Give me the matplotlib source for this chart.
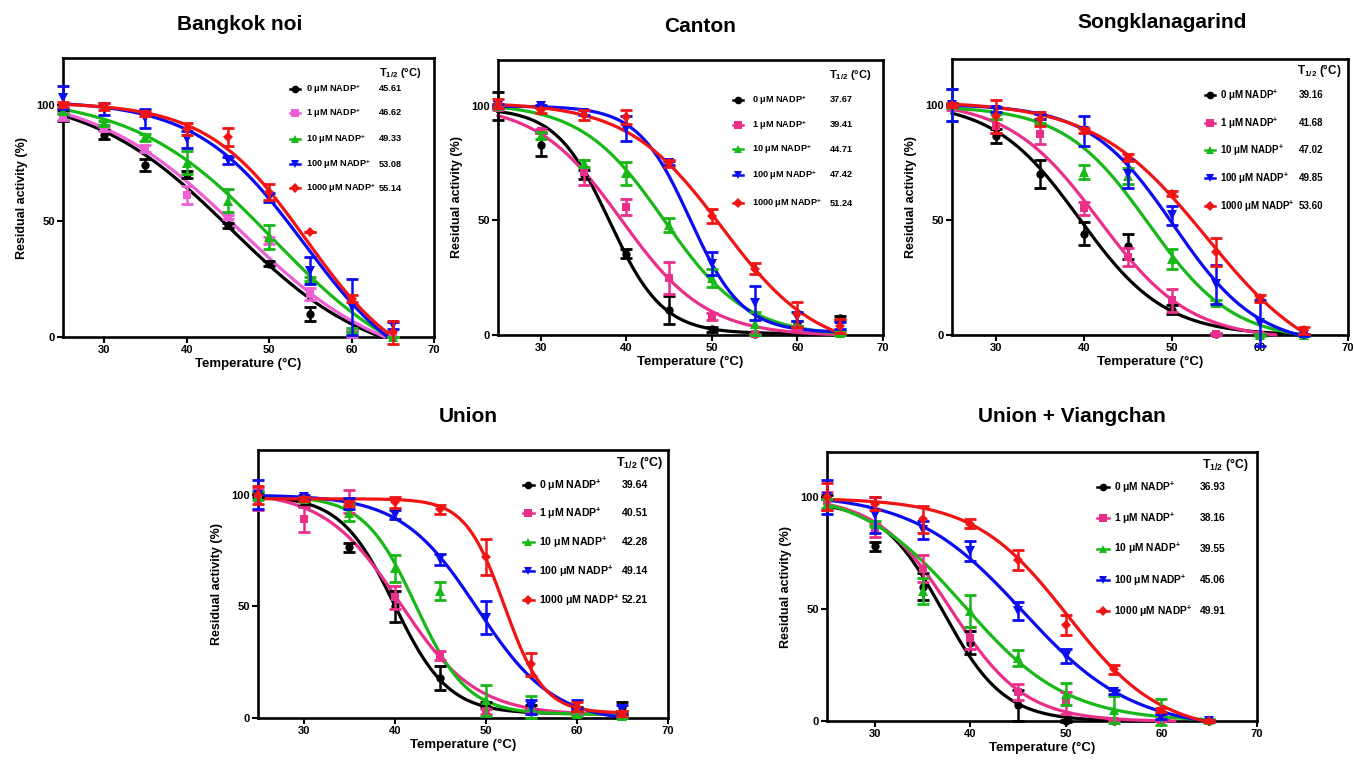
import numpy as np
import matplotlib
matplotlib.use("Agg")
import matplotlib.pyplot as plt

plt.rcParams['font.family'] = ['Liberation Sans', 'DejaVu Sans']
plt.rcParams['font.weight'] = 'bold'
plt.rcParams['mathtext.fontset'] = 'custom'
plt.rcParams['mathtext.rm'] = 'Liberation Sans:bold'
plt.rcParams['mathtext.bf'] = 'Liberation Sans:bold'
plt.rcParams['mathtext.it'] = 'Liberation Sans:bold'

# ---------------- data ----------------
TEMPS = [25, 30, 35, 40, 45, 50, 55, 60, 65]
LABELS = ["0 μM NADP$^{+}$", "1 μM NADP$^{+}$", "10 μM NADP$^{+}$",
          "100 μM NADP$^{+}$", "1000 μM NADP$^{+}$"]
TITLES = ["Bangkok noi", "Canton", "Songklanagarind", "Union", "Union + Viangchan"]

T_HALF_BANGKOK = ["45.61", "46.62", "49.33", "53.08", "55.14"]
T_HALF_CANTON = ["37.67", "39.41", "44.71", "47.42", "51.24"]
T_HALF_SONGKLA = ["39.16", "41.68", "47.02", "49.85", "53.60"]
T_HALF_UNION = ["39.64", "40.51", "42.28", "49.14", "52.21"]
T_HALF_UV = ["36.93", "38.16", "39.55", "45.06", "49.91"]

# mean residual activity (%) per NADP+ level (rows: 0, 1, 10, 100, 1000 uM)
MEAN_BANGKOK = [[95, 87, 74, 70, 48, 31.5, 10, 1.5, 0],
                [95, 89.5, 81, 61, 51.6, 41.5, 18.6, 1.5, 0],
                [97, 92, 86, 75, 58.7, 43, 25, 3, 0],
                [103, 98, 94, 85, 76, 60, 28.6, 13, 5],
                [100, 99, 96, 89.5, 86, 62.3, 45, 16.5, 2]]
ERR_BANGKOK = [[2, 2, 2.5, 1.5, 1, 1, 3, 1, 0],
               [1.5, 1, 1.5, 4, 1, 1.5, 2.5, 1.5, 0],
               [1, 1, 1.5, 5, 5, 5, 1, 1, 0],
               [5, 2.5, 4, 3.5, 1.5, 2, 6, 12, 1.5],
               [1, 1.5, 1, 2.5, 4, 3.5, 0, 1.5, 5]]

MEAN_CANTON = [[100, 83, 70, 35.5, 11, 2.5, 0.5, 5, 7.5],
               [99, 89, 71, 56, 25, 8, 0.5, 3, 1],
               [100, 87, 75, 70.5, 48, 25, 5, 5, 1],
               [100, 100, 97, 90, 75, 31, 14, 8, 4],
               [101, 98, 96, 95, 75, 52, 29, 9, 4]]
ERR_CANTON = [[6, 5, 2, 2, 6, 1, 0, 1, 1],
              [1, 1, 5.5, 3.5, 7, 1.5, 0, 1, 1],
              [1, 1.5, 1.5, 5, 3, 4, 5, 1, 1],
              [1, 0.5, 1, 5.5, 1, 5, 7.5, 2, 1.5],
              [2, 1, 2, 3, 1.5, 3, 2.5, 5.5, 3]]

MEAN_SONGKLA = [[100, 86.5, 70, 44, 38.5, 11, 0.5, 0, 0],
                [99, 91, 87.5, 55, 34, 15, 0.5, 0, 0],
                [100, 95, 93, 71, 69, 33, 14, 0, 0],
                [100, 98, 95, 88.5, 70, 52, 22, 5, 0],
                [100, 95, 94, 89, 77, 61.5, 36, 16, 2]]
ERR_SONGKLA = [[1, 3, 6, 5, 5.5, 2, 0, 0, 0],
               [1, 3, 4.5, 3, 4, 5, 0.5, 0, 0],
               [7, 1, 1, 3, 3.5, 4.5, 1, 0.5, 0],
               [7, 1, 1, 6.5, 6, 4, 8.5, 10, 0.5],
               [1, 7, 3, 1, 1.5, 1, 6, 1.5, 1.5]]

MEAN_UNION = [[100, 96, 76.5, 50, 18, 6, 5, 4, 5],
              [98, 89, 97, 54, 28, 3, 3, 3, 2],
              [99.5, 98, 92, 67, 57, 8, 5, 2, 1],
              [100, 99, 96, 91, 71, 45, 5, 6, 4],
              [100, 98, 96, 96.5, 93.5, 72, 24, 5, 2]]
ERR_UNION = [[1, 1, 2, 7, 5.5, 1, 1, 1, 2],
             [5, 5.5, 5, 5, 2, 1, 1, 1, 1],
             [2, 1, 4, 6, 4, 7, 5, 1, 1],
             [6.5, 1, 2.5, 2, 2.5, 7.5, 3, 2, 2],
             [4, 1, 1, 2.5, 2, 8, 5, 2, 1]]

MEAN_UV = [[100, 78, 60, 35, 7, 0, 0, 0, 0],
           [98, 85, 68, 37, 13, 8, 0, 0, 0],
           [97, 88, 58, 49, 28, 12, 5, 4, 0.5],
           [100, 92, 85, 76, 49, 29, 13, 2, 0],
           [100, 97, 90, 88, 72, 43, 23, 5, 0]]
ERR_UV = [[1, 2, 6, 5, 7, 0.5, 0, 0, 0],
          [4, 3, 6, 5, 3.5, 5, 0, 0, 0],
          [2, 1, 6, 7, 3.5, 5, 6, 6, 0.5],
          [7.5, 8, 4, 4.5, 4, 3, 1, 1, 0.5],
          [6, 3, 6, 2, 4.5, 4.5, 2, 1, 0.5]]

# Boltzmann fit parameters per NADP+ level: top, bottom, V50, slope
FIT_BANGKOK = [[105.23, -12.54, 45.39, 8.571], [106.15, -14.68, 46.50, 8.878],
               [103.70, -19.57, 50.50, 8.463], [101.71, -21.83, 54.30, 6.553],
               [100.94, -17.62, 54.54, 6.033]]
FIT_CANTON = [[99.01, 0.58, 38.01, 3.112], [100.96, -0.45, 39.42, 4.956],
              [101.22, -0.58, 44.38, 4.824], [99.89, 1.08, 47.45, 3.061],
              [101.50, -7.53, 51.17, 5.536]]
FIT_SONGKLA = [[101.38, -0.22, 39.48, 4.875], [102.00, -2.02, 41.71, 5.143],
               [99.53, -2.53, 47.31, 4.809], [100.35, -5.12, 50.20, 4.789],
               [101.60, -16.63, 53.92, 6.367]]
FIT_UNION = [[99.66, 1.85, 39.97, 2.961], [101.50, 1.27, 40.59, 4.152],
             [99.47, 1.64, 42.30, 2.832], [99.90, -1.92, 49.07, 4.176],
             [98.16, 2.19, 52.05, 2.152]]
FIT_UV = [[97.95, -0.06, 37.13, 3.201], [100.08, -0.23, 37.95, 3.869],
          [103.42, -0.28, 39.32, 5.396], [101.42, -3.53, 45.48, 5.734],
          [99.47, -5.30, 50.17, 4.875]]

# ---------------- styling ----------------
PINK_BN = "#ee5fd6"
PINK = "#ea2f8a"
GREEN = "#18b818"
BLUE = "#0c0cf0"
RED = "#f01414"
COLORS_BN = ["#000000", PINK_BN, GREEN, BLUE, RED]
COLORS = ["#000000", PINK, GREEN, BLUE, RED]
MARKERS = ["o", "s", "^", "v", "D"]
MSIZES = [6, 6, 6.5, 6.5, 5.5]

panels = [
    dict(title=TITLES[0], mean=MEAN_BANGKOK, err=ERR_BANGKOK, fit=FIT_BANGKOK, th=T_HALF_BANGKOK,
         rect=[63, 58, 434, 337], colors=COLORS_BN, ttl=(240, 25),
         leg=dict(mx=0.625, tx=0.655, vx=0.852, hx=0.908, hy=0.946,
                  rows=[0.889, 0.803, 0.710, 0.620, 0.534], fs=6.6)),
    dict(title=TITLES[1], mean=MEAN_CANTON, err=ERR_CANTON, fit=FIT_CANTON, th=T_HALF_CANTON,
         rect=[498, 60, 883, 335], colors=COLORS, ttl=(700, 27),
         leg=dict(mx=0.623, tx=0.660, vx=0.862, hx=0.914, hy=0.945,
                  rows=[0.855, 0.764, 0.676, 0.582, 0.480], fs=6.6)),
    dict(title=TITLES[2], mean=MEAN_SONGKLA, err=ERR_SONGKLA, fit=FIT_SONGKLA, th=T_HALF_SONGKLA,
         rect=[952, 59, 1348, 335], colors=COLORS, ttl=(1162, 23),
         leg=dict(mx=0.652, tx=0.677, vx=0.876, hx=0.927, hy=0.957,
                  rows=[0.870, 0.768, 0.670, 0.569, 0.467], fs=7)),
    dict(title=TITLES[3], mean=MEAN_UNION, err=ERR_UNION, fit=FIT_UNION, th=T_HALF_UNION,
         rect=[258, 450, 668, 718], colors=COLORS, ttl=(468, 417),
         leg=dict(mx=0.659, tx=0.686, vx=0.888, hx=0.932, hy=0.955,
                  rows=[0.869, 0.765, 0.657, 0.549, 0.440], fs=7.6)),
    dict(title=TITLES[4], mean=MEAN_UV, err=ERR_UV, fit=FIT_UV, th=T_HALF_UV,
         rect=[827, 452, 1257, 721], colors=COLORS, ttl=(1072, 416),
         leg=dict(mx=0.642, tx=0.667, vx=0.867, hx=0.926, hy=0.955,
                  rows=[0.870, 0.755, 0.640, 0.524, 0.409], fs=7.4)),
]

W, H = 1354, 761
fig = plt.figure(figsize=(W / 100, H / 100), dpi=100)


def boltzmann(p, x):
    top, bottom, v50, slope = p
    return bottom + (top - bottom) / (1 + np.exp((x - v50) / slope))


for pnl in panels:
    l, t, r, b = pnl["rect"]
    ax = fig.add_axes([l / W, 1 - b / H, (r - l) / W, (b - t) / H])
    xs = np.linspace(TEMPS[0], TEMPS[-1], 400)
    for i in range(5):
        c = pnl["colors"][i]
        yfit = boltzmann(pnl["fit"][i], xs)
        yfit = np.where(yfit >= 0, yfit, np.nan)
        ax.plot(xs, yfit, color=c, lw=2.3, zorder=3 + i * 0.1, clip_on=False)
        ax.errorbar(TEMPS, pnl["mean"][i], yerr=pnl["err"][i], fmt="none", ecolor=c,
                    elinewidth=1.8, capsize=4.2, capthick=2.0,
                    zorder=4 + i * 0.1, clip_on=False)
        ax.plot(TEMPS, pnl["mean"][i], linestyle="none", marker=MARKERS[i], color=c,
                ms=MSIZES[i], mew=0, zorder=4.05 + i * 0.1, clip_on=False)
    ax.set_xlim(25, 70)
    ax.set_ylim(0, 120)
    ax.set_xticks([30, 40, 50, 60, 70])
    ax.set_yticks([0, 50, 100])
    for s in ax.spines.values():
        s.set_linewidth(1.9)
    ax.tick_params(direction="out", length=4, width=1.5, labelsize=8, pad=2)
    for lab in ax.get_xticklabels() + ax.get_yticklabels():
        lab.set_fontweight("bold")
    ax.set_xlabel("Temperature (°C)", fontsize=9.5, fontweight="bold", labelpad=2)
    ax.set_ylabel("Residual activity (%)", fontsize=9, fontweight="bold", labelpad=6)
    fig.text(pnl["ttl"][0] / W, 1 - pnl["ttl"][1] / H, pnl["title"], ha="center",
             va="center", fontsize=15, fontweight="bold")

    lg = pnl["leg"]
    ax.text(lg["hx"], lg["hy"], "T$_{1/2}$ (°C)", transform=ax.transAxes, ha="center",
            va="center", fontsize=lg["fs"] + 1.4, fontweight="bold")
    for i in range(5):
        y = lg["rows"][i]
        c = pnl["colors"][i]
        ax.plot([lg["mx"] - 0.013, lg["mx"] + 0.013], [y, y], color=c, lw=1.8,
                transform=ax.transAxes, zorder=6)
        ax.plot([lg["mx"]], [y], marker=MARKERS[i], color=c, ms=MSIZES[i] - 0.5, mew=0,
                transform=ax.transAxes, zorder=6)
        ax.text(lg["tx"], y, LABELS[i], transform=ax.transAxes, ha="left", va="center",
                fontsize=lg["fs"], fontweight="bold")
        ax.text(lg["vx"], y, pnl["th"][i], transform=ax.transAxes, ha="left", va="center",
                fontsize=lg["fs"], fontweight="bold")

fig.savefig("out.png", dpi=100, facecolor="white")
